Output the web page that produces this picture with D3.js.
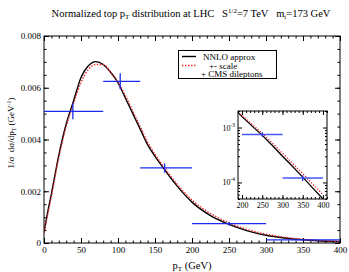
<!DOCTYPE html>
<html>
<head>
<style>
  body { margin: 0; background: #fff; }
  text { font-family: "Liberation Serif", "DejaVu Serif", serif; fill: #000; }
  .axis path { stroke: #000; }
  .axis line { stroke: #000; }
</style>
<script src="https://cdn.jsdelivr.net/npm/d3@7"></script>
</head>
<body>
<svg id="chart" width="349" height="272"></svg>
<script>
// NNLO approx curve
var ptCurve   = [0, 5, 10, 20, 30, 40, 50, 60, 70, 80, 90, 100, 110, 120, 130, 140, 150, 160, 170, 180, 190, 200, 225, 250, 275, 300, 325, 350, 375, 400];
var nnlo      = [0.0004, 0.0012, 0.0019, 0.0034, 0.0046, 0.0055, 0.0064, 0.00685, 0.00701, 0.0069, 0.0066, 0.0062, 0.0056, 0.0050, 0.0044, 0.0038, 0.00335, 0.00295, 0.00256, 0.0022, 0.00187, 0.00158, 0.00106, 0.00072, 0.00047, 0.00030, 0.000195, 0.000125, 0.000079, 0.00005];
// +- scale curve
var scaleBand = [0.0004, 0.0011, 0.0018, 0.0033, 0.0045, 0.0054, 0.0062, 0.0067, 0.0069, 0.0069, 0.0066, 0.0062, 0.0057, 0.0051, 0.0045, 0.0039, 0.00343, 0.00302, 0.00263, 0.00227, 0.00194, 0.00166, 0.00114, 0.00078, 0.00052, 0.00034, 0.000222, 0.000145, 0.000093, 0.00006];
// CMS dileptons
var binLo  = [0, 80, 130, 200, 300];
var binHi  = [80, 130, 200, 300, 400];
var cmsVal = [0.00509, 0.00625, 0.0029, 0.00075, 0.00012];
var cmsErr = [0.00031, 0.00031, 0.00018, 0.00007, 0.000014];
var cmsPt  = [39, 103, 163, 250, 350];

var xTicks = [0, 50, 100, 150, 200, 250, 300, 350, 400];
var yTicks = [0, 0.002, 0.004, 0.006, 0.008];
var yTickLabels = ["0", "0.002", "0.004", "0.006", "0.008"];
var insetXTicks = [200, 250, 300, 350, 400];

var svg = d3.select("#chart");

var x = d3.scaleLinear().domain([0, 400]).range([44, 340]);
var y = d3.scaleLinear().domain([0, 0.008]).range([243, 36]);

var curveData = ptCurve.map(function(p, i) { return {pt: p, a: nnlo[i], b: scaleBand[i]}; });
var cms = binLo.map(function(d, i) { return {lo: d, hi: binHi[i], v: cmsVal[i], e: cmsErr[i], pt: cmsPt[i]}; });

// title
var title = svg.append("text").attr("x", 191).attr("y", 17).attr("text-anchor", "middle")
  .attr("font-size", "10.5px").attr("xml:space", "preserve");
title.append("tspan").text("Normalized top p");
title.append("tspan").attr("font-size", "7px").attr("dy", 2).text("T");
title.append("tspan").attr("dy", -2).text(" distribution at LHC   S");
title.append("tspan").attr("font-size", "7px").attr("dy", -4).text("1/2");
title.append("tspan").attr("dy", 4).text("=7 TeV   m");
title.append("tspan").attr("font-size", "7px").attr("dy", 2).text("t");
title.append("tspan").attr("dy", -2).text("=173 GeV");

// main axes
function minorRange(a, b, s) { var r = []; for (var v = a; v <= b + 1e-12; v += s) r.push(+v.toFixed(6)); return r; }

svg.append("g").attr("class", "axis").attr("transform", "translate(0,243)")
  .call(d3.axisBottom(x).tickValues(minorRange(0, 400, 10)).tickSize(-2.5).tickFormat(""));
svg.append("g").attr("class", "axis").attr("transform", "translate(0,243)")
  .call(d3.axisBottom(x).tickValues(xTicks).tickSize(-5).tickPadding(4).tickFormat(d3.format("d")))
  .selectAll("text").attr("font-size", "9px").style("font-family", "Liberation Serif");
svg.append("g").attr("class", "axis").attr("transform", "translate(0,36)")
  .call(d3.axisTop(x).tickValues(minorRange(0, 400, 10)).tickSize(-2.5).tickFormat(""));
svg.append("g").attr("class", "axis").attr("transform", "translate(0,36)")
  .call(d3.axisTop(x).tickValues(xTicks).tickSize(-5).tickFormat(""));

svg.append("g").attr("class", "axis").attr("transform", "translate(44,0)")
  .call(d3.axisLeft(y).tickValues(minorRange(0, 0.008, 0.0005)).tickSize(-2.5).tickFormat(""));
svg.append("g").attr("class", "axis").attr("transform", "translate(44,0)")
  .call(d3.axisLeft(y).tickValues(yTicks).tickSize(-5).tickPadding(3).tickFormat(function(d, i) { return yTickLabels[i]; }))
  .selectAll("text").attr("font-size", "9px").style("font-family", "Liberation Serif");
svg.append("g").attr("class", "axis").attr("transform", "translate(340,0)")
  .call(d3.axisRight(y).tickValues(minorRange(0, 0.008, 0.0005)).tickSize(-2.5).tickFormat(""));
svg.append("g").attr("class", "axis").attr("transform", "translate(340,0)")
  .call(d3.axisRight(y).tickValues(yTicks).tickSize(-5).tickFormat(""));
svg.selectAll(".axis path.domain").remove();
svg.append("rect").attr("x", 44).attr("y", 36).attr("width", 296).attr("height", 207)
  .attr("fill", "none").attr("stroke", "#000").attr("stroke-width", 1);

// axis labels
var xl = svg.append("text").attr("x", 192).attr("y", 269).attr("text-anchor", "middle").attr("font-size", "10.5px");
xl.append("tspan").text("p");
xl.append("tspan").attr("font-size", "7px").attr("dy", 2).text("T");
xl.append("tspan").attr("dy", -2).text(" (GeV)");

var yl = svg.append("text").attr("transform", "translate(14,133) rotate(-90)").attr("text-anchor", "middle")
  .attr("font-size", "9px").attr("xml:space", "preserve");
yl.append("tspan").text("1/σ  dσ/dp");
yl.append("tspan").attr("font-size", "6px").attr("dy", 2).text("T");
yl.append("tspan").attr("dy", -2).text(" (GeV");
yl.append("tspan").attr("font-size", "6px").attr("dy", -3.5).text("-1");
yl.append("tspan").attr("dy", 3.5).text(")");

// main curves
svg.append("defs").append("clipPath").attr("id", "clipMain").append("rect")
  .attr("x", 44).attr("y", 36).attr("width", 296).attr("height", 207);

var lineA = d3.line().x(function(d) { return x(d.pt); }).y(function(d) { return y(d.a); }).curve(d3.curveMonotoneX);
var lineB = d3.line().x(function(d) { return x(d.pt); }).y(function(d) { return y(d.b); }).curve(d3.curveMonotoneX);

var gMain = svg.append("g").attr("clip-path", "url(#clipMain)");
gMain.append("path").datum(curveData).attr("d", lineA).attr("fill", "none").attr("stroke", "#000").attr("stroke-width", 1.4);
gMain.append("path").datum(curveData).attr("d", lineB).attr("fill", "none").attr("stroke", "#e8262a")
  .attr("stroke-width", 1.4).attr("stroke-dasharray", "1.4,1.6");

gMain.selectAll(".bin").data(cms).join("line").attr("class", "bin")
  .attr("x1", function(d) { return x(d.lo); }).attr("x2", function(d) { return x(d.hi); })
  .attr("y1", function(d) { return y(d.v); }).attr("y2", function(d) { return y(d.v); })
  .attr("stroke", "#1a2cf0").attr("stroke-width", 1.3);
gMain.selectAll(".err").data(cms).join("line").attr("class", "err")
  .attr("x1", function(d) { return x(d.pt); }).attr("x2", function(d) { return x(d.pt); })
  .attr("y1", function(d) { return y(d.v - d.e); }).attr("y2", function(d) { return y(d.v + d.e); })
  .attr("stroke", "#1a2cf0").attr("stroke-width", 1.3);

// legend
svg.append("rect").attr("x", 178.5).attr("y", 50.5).attr("width", 98).attr("height", 28)
  .attr("fill", "#fff").attr("stroke", "#000").attr("stroke-width", 1);
svg.append("line").attr("x1", 182).attr("x2", 196).attr("y1", 56.5).attr("y2", 56.5).attr("stroke", "#000").attr("stroke-width", 1.4);
svg.append("line").attr("x1", 182).attr("x2", 196).attr("y1", 65.5).attr("y2", 65.5).attr("stroke", "#e8262a")
  .attr("stroke-width", 1.4).attr("stroke-dasharray", "1.4,1.6");
svg.append("text").attr("x", 203).attr("y", 59.5).attr("font-size", "9px").text("NNLO approx");
svg.append("text").attr("x", 209).attr("y", 68.5).attr("font-size", "9px").text("+- scale");
svg.append("text").attr("x", 201).attr("y", 77.3).attr("font-size", "9px").text("+ CMS dileptons");

// inset (log scale)
var xi = d3.scaleLinear().domain([190, 410]).range([238, 327]);
var yi = d3.scaleLog().domain([5e-5, 2e-3]).range([199, 111]);

svg.append("rect").attr("x", 238).attr("y", 111).attr("width", 89).attr("height", 88).attr("fill", "#fff");
svg.append("defs").append("clipPath").attr("id", "clipInset").append("rect")
  .attr("x", 238).attr("y", 111).attr("width", 89).attr("height", 88);

var lineAi = d3.line().x(function(d) { return xi(d.pt); }).y(function(d) { return yi(d.a); });
var lineBi = d3.line().x(function(d) { return xi(d.pt); }).y(function(d) { return yi(d.b); });
var tail = curveData.filter(function(d) { return d.pt >= 180; });

var gIn = svg.append("g").attr("clip-path", "url(#clipInset)");
gIn.append("path").datum(tail).attr("d", lineAi).attr("fill", "none").attr("stroke", "#000").attr("stroke-width", 1.3);
gIn.append("path").datum(tail).attr("d", lineBi).attr("fill", "none").attr("stroke", "#e8262a")
  .attr("stroke-width", 1.3).attr("stroke-dasharray", "1.3,1.6");
var cmsTail = cms.filter(function(d) { return d.lo >= 200; });
gIn.selectAll(".bin").data(cmsTail).join("line").attr("class", "bin")
  .attr("x1", function(d) { return xi(d.lo); }).attr("x2", function(d) { return xi(d.hi); })
  .attr("y1", function(d) { return yi(d.v); }).attr("y2", function(d) { return yi(d.v); })
  .attr("stroke", "#4858f4").attr("stroke-width", 1.5);
gIn.selectAll(".err").data(cmsTail).join("line").attr("class", "err")
  .attr("x1", function(d) { return xi(d.pt); }).attr("x2", function(d) { return xi(d.pt); })
  .attr("y1", function(d) { return yi(d.v - d.e); }).attr("y2", function(d) { return yi(d.v + d.e); })
  .attr("stroke", "#2030f0").attr("stroke-width", 1.3);

var logMinor = [5e-5, 6e-5, 7e-5, 8e-5, 9e-5, 2e-4, 3e-4, 4e-4, 5e-4, 6e-4, 7e-4, 8e-4, 9e-4, 2e-3];
svg.append("g").attr("class", "axis").attr("transform", "translate(0,199)")
  .call(d3.axisBottom(xi).tickValues(minorRange(190, 410, 10)).tickSize(-2).tickFormat(""));
svg.append("g").attr("class", "axis").attr("transform", "translate(0,199)")
  .call(d3.axisBottom(xi).tickValues(insetXTicks).tickSize(-4).tickPadding(3).tickFormat(d3.format("d")))
  .selectAll("text").attr("font-size", "8px").style("font-family", "Liberation Serif");
svg.append("g").attr("class", "axis").attr("transform", "translate(0,111)")
  .call(d3.axisTop(xi).tickValues(minorRange(190, 410, 10)).tickSize(-2).tickFormat(""));
svg.append("g").attr("class", "axis").attr("transform", "translate(0,111)")
  .call(d3.axisTop(xi).tickValues(insetXTicks).tickSize(-4).tickFormat(""));
svg.append("g").attr("class", "axis").attr("transform", "translate(238,0)")
  .call(d3.axisLeft(yi).tickValues(logMinor).tickSize(-2).tickFormat(""));
svg.append("g").attr("class", "axis").attr("transform", "translate(327,0)")
  .call(d3.axisRight(yi).tickValues(logMinor).tickSize(-2).tickFormat(""));
svg.append("g").attr("class", "axis").attr("transform", "translate(238,0)")
  .call(d3.axisLeft(yi).tickValues([1e-4, 1e-3]).tickSize(-4).tickFormat(""));
svg.append("g").attr("class", "axis").attr("transform", "translate(327,0)")
  .call(d3.axisRight(yi).tickValues([1e-4, 1e-3]).tickSize(-4).tickFormat(""));
svg.selectAll(".axis path.domain").remove();
svg.append("rect").attr("x", 238).attr("y", 111).attr("width", 89).attr("height", 88)
  .attr("fill", "none").attr("stroke", "#000").attr("stroke-width", 1);

[1e-3, 1e-4].forEach(function(v, i) {
  var t = svg.append("text").attr("x", 235).attr("y", yi(v) + 3).attr("text-anchor", "end").attr("font-size", "8px");
  t.append("tspan").text("10");
  t.append("tspan").attr("font-size", "5.5px").attr("dy", -4).text(i === 0 ? "-3" : "-4");
});
</script>
</body>
</html>
